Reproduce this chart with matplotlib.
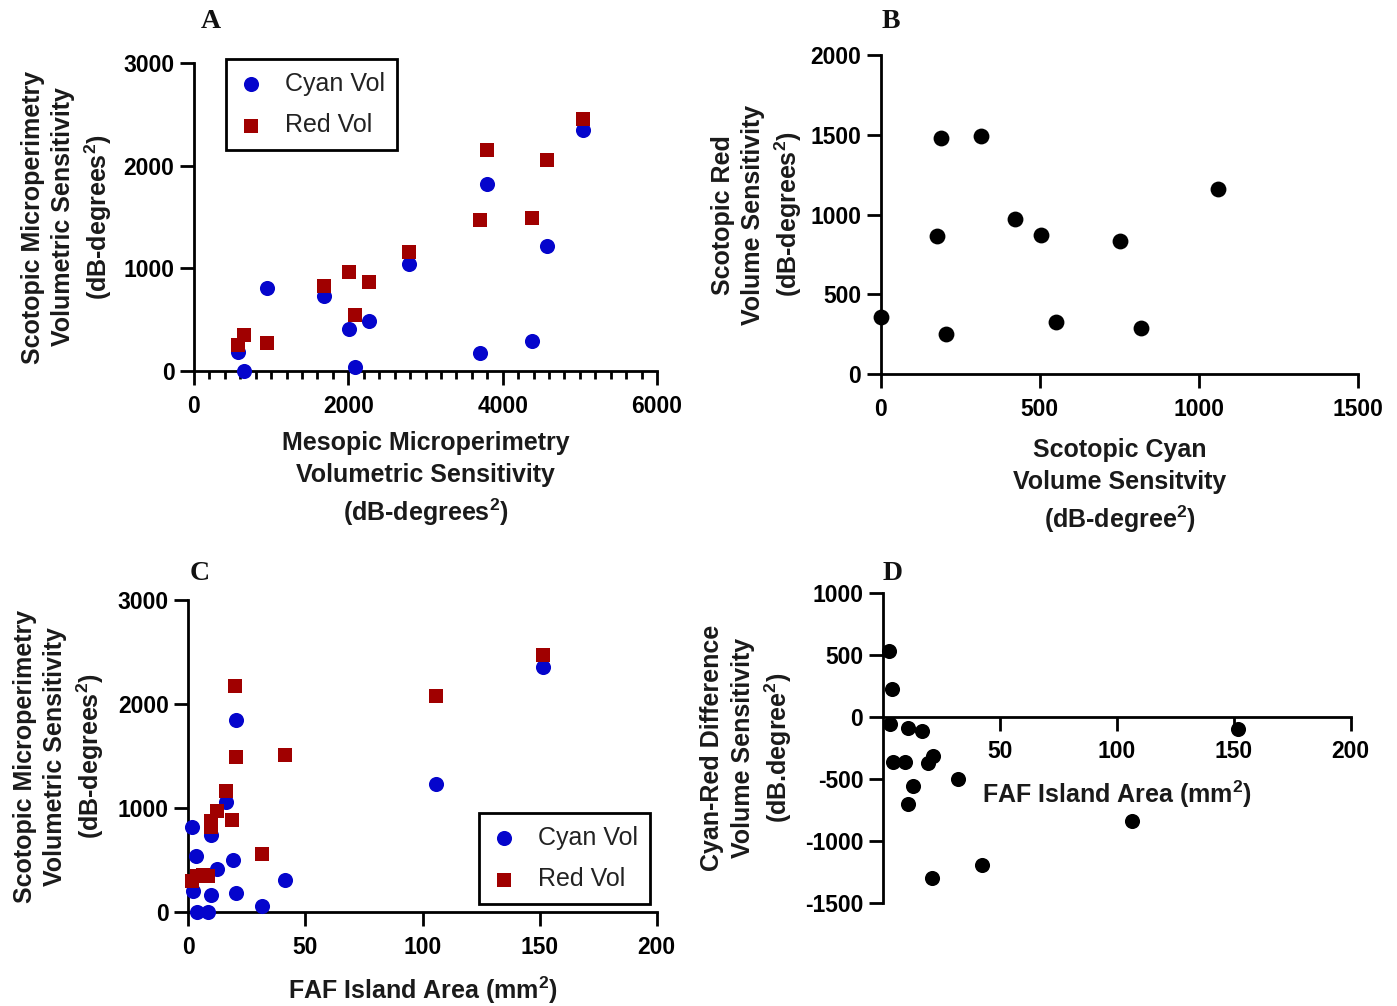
import matplotlib
matplotlib.use("Agg")
import matplotlib.pyplot as plt
from matplotlib.ticker import MultipleLocator

plt.rcParams['font.family'] = ['Liberation Sans', 'DejaVu Sans']
plt.rcParams['font.weight'] = 'bold'
plt.rcParams['mathtext.default'] = 'regular'
plt.rcParams['axes.unicode_minus'] = False

# ---------------- data ----------------
# Panel A: mesopic vs scotopic (cyan / red)
a_meso = [575, 648, 940, 1685, 2010, 2270, 2080, 2790, 3705, 3800, 4385, 4580, 5045]
a_cyan = [185, 0, 805, 730, 410, 490, 40, 1045, 175, 1825, 295, 1215, 2345]
a_meso_r = [575, 648, 940, 1685, 2010, 2270, 2080, 2790, 3705, 3800, 4385, 4580, 5045]
a_red = [250, 350, 275, 825, 960, 865, 545, 1155, 1475, 2150, 1495, 2060, 2450]

# Panel B: scotopic cyan vs scotopic red
b_cyan = [0, 190, 315, 177, 204, 422, 503, 549, 750, 818, 1058]
b_red = [360, 1480, 1495, 865, 255, 970, 873, 327, 833, 290, 1158]

# Panel C: FAF island area vs scotopic volumes
c_area_cyan = [1.7, 3.3, 2.1, 3.6, 8.5, 9.6, 9.7, 12.4, 16.1, 18.9, 20.2, 20.5, 31.3, 41.3, 105.8, 151.3]
c_cyan = [818, 545, 202, 0, 0, 165, 746, 416, 1060, 505, 186, 1846, 60, 312, 1228, 2360]
c_area_red = [19.9, 20.2, 41.3, 16.0, 12.1, 9.7, 9.9, 18.8, 31.3, 1.5, 3.6, 6.4, 8.5, 105.8, 151.3]
c_red = [2170, 1490, 1510, 1170, 975, 880, 820, 884, 560, 300, 350, 360, 350, 2080, 2470]

# Panel D: FAF island area vs cyan-red difference
d_area = [2.8, 4.1, 3.1, 10.9, 16.9, 4.5, 9.5, 19.5, 21.4, 13.1, 10.7, 32.0, 20.9, 42.4, 106.7, 152.0]
d_diff = [530, 220, -62, -95, -113, -368, -368, -376, -317, -560, -707, -505, -1303, -1196, -841, -102]

BLUE = '#0505CC'
RED = '#A00000'
W, H = 1397, 1006

fig = plt.figure(figsize=(W / 100, H / 100), dpi=100)


def add_ax(l, r, t, b):
    return fig.add_axes([l / W, 1 - b / H, (r - l) / W, (b - t) / H])


def style(ax):
    for s in ['top', 'right']:
        ax.spines[s].set_visible(False)
    for s in ['left', 'bottom']:
        ax.spines[s].set_linewidth(2)
    ax.tick_params(which='major', length=10, width=2, direction='out', labelsize=16.5)
    ax.tick_params(axis='y', pad=4)
    ax.tick_params(axis='x', pad=7)


def legend(ax, x, y):
    leg = ax.legend(loc='upper left', bbox_to_anchor=(x / W, 1 - y / H),
                    bbox_transform=fig.transFigure, borderaxespad=0,
                    frameon=True, fancybox=False, framealpha=1, edgecolor='black',
                    prop={'family': 'Liberation Sans', 'weight': 'normal', 'size': 18},
                    borderpad=0.5, handlelength=1.0, handletextpad=0.85,
                    labelspacing=0.72, scatterpoints=1)
    leg.get_frame().set_linewidth(2)
    for t in leg.get_texts():
        t.set_color('#222222')


XLABEL_KW = dict(fontsize=18, fontweight='bold', color='#1a1a1a', linespacing=1.4)
YLABEL_KW = dict(fontsize=18, fontweight='bold', color='#1a1a1a', linespacing=1.32)
MS_C = 118
MS_S = 105

# ---------------- Panel A ----------------
axA = add_ax(194, 657, 63, 371)
style(axA)
axA.scatter(a_meso, a_cyan, s=MS_C, marker='o', color=BLUE, label='Cyan Vol', zorder=3, clip_on=False, linewidths=0)
axA.scatter(a_meso_r, a_red, s=MS_S, marker='s', color=RED, label='Red Vol', zorder=3, clip_on=False, linewidths=0)
axA.set_xlim(0, 6000)
axA.set_ylim(0, 3000)
axA.xaxis.set_major_locator(MultipleLocator(2000))
axA.xaxis.set_minor_locator(MultipleLocator(200))
axA.tick_params(axis='x', which='minor', length=6, width=2)
axA.yaxis.set_major_locator(MultipleLocator(1000))
axA.set_xlabel('Mesopic Microperimetry\nVolumetric Sensitivity\n(dB-degrees$^{2}$)', **XLABEL_KW)
axA.set_ylabel('Scotopic Microperimetry\nVolumetric Sensitivity\n(dB-degrees$^{2}$)', **YLABEL_KW)
axA.xaxis.set_label_coords(0.5, -0.195)
axA.yaxis.set_label_coords(-0.172, 0.5)
legend(axA, 226, 59)

# ---------------- Panel B ----------------
axB = add_ax(880.7, 1358.3, 55, 374.3)
style(axB)
axB.scatter(b_cyan, b_red, s=130, marker='o', color='black', zorder=3, clip_on=False, linewidths=0)
axB.set_xlim(0, 1500)
axB.set_ylim(0, 2000)
axB.xaxis.set_major_locator(MultipleLocator(500))
axB.yaxis.set_major_locator(MultipleLocator(500))
axB.set_xlabel('Scotopic Cyan\nVolume Sensitvity\n(dB-degree$^{2}$)', **XLABEL_KW)
axB.set_ylabel('Scotopic Red\nVolume Sensitivity\n(dB-degrees$^{2}$)', **YLABEL_KW)
axB.xaxis.set_label_coords(0.5, -0.2)
axB.yaxis.set_label_coords(-0.160, 0.5)

# ---------------- Panel C ----------------
axC = add_ax(188.3, 656.7, 600, 912.3)
style(axC)
axC.scatter(c_area_cyan, c_cyan, s=MS_C, marker='o', color=BLUE, label='Cyan Vol', zorder=3, clip_on=False, linewidths=0)
axC.scatter(c_area_red, c_red, s=MS_S, marker='s', color=RED, label='Red Vol', zorder=3, clip_on=False, linewidths=0)
axC.set_xlim(0, 200)
axC.set_ylim(0, 3000)
axC.xaxis.set_major_locator(MultipleLocator(50))
axC.yaxis.set_major_locator(MultipleLocator(1000))
axC.set_xlabel('FAF Island Area (mm$^{2}$)', **XLABEL_KW)
axC.set_ylabel('Scotopic Microperimetry\nVolumetric Sensitivity\n(dB-degrees$^{2}$)', **YLABEL_KW)
axC.xaxis.set_label_coords(0.5, -0.2)
axC.yaxis.set_label_coords(-0.175, 0.5)
legend(axC, 479, 813)

# ---------------- Panel D ----------------
axD = add_ax(882.7, 1350.7, 592.7, 902.7)
style(axD)
axD.spines['bottom'].set_position(('data', 0))
axD.scatter(d_area, d_diff, s=MS_C, marker='o', color='black', zorder=3, clip_on=False, linewidths=0)
axD.set_xlim(0, 200)
axD.set_ylim(-1500, 1000)
axD.set_xticks([50, 100, 150, 200])
axD.yaxis.set_major_locator(MultipleLocator(500))
axD.set_xlabel('FAF Island Area (mm$^{2}$)', **XLABEL_KW)
axD.set_ylabel('Cyan-Red Difference\nVolume Sensitivity\n(dB.degree$^{2}$)', **YLABEL_KW)
axD.xaxis.set_label_coords(0.5, 0.40)
axD.yaxis.set_label_coords(-0.190, 0.5)

# ---------------- panel letters ----------------
for letter, x, y in [('A', 211, 22), ('B', 891, 21), ('C', 200, 574), ('D', 893, 573)]:
    fig.text(x / W, 1 - y / H, letter, family='Liberation Serif', weight='bold',
             size=20, ha='center', va='center', color='#111111')

fig.savefig('out.png', dpi=100, facecolor='white')
